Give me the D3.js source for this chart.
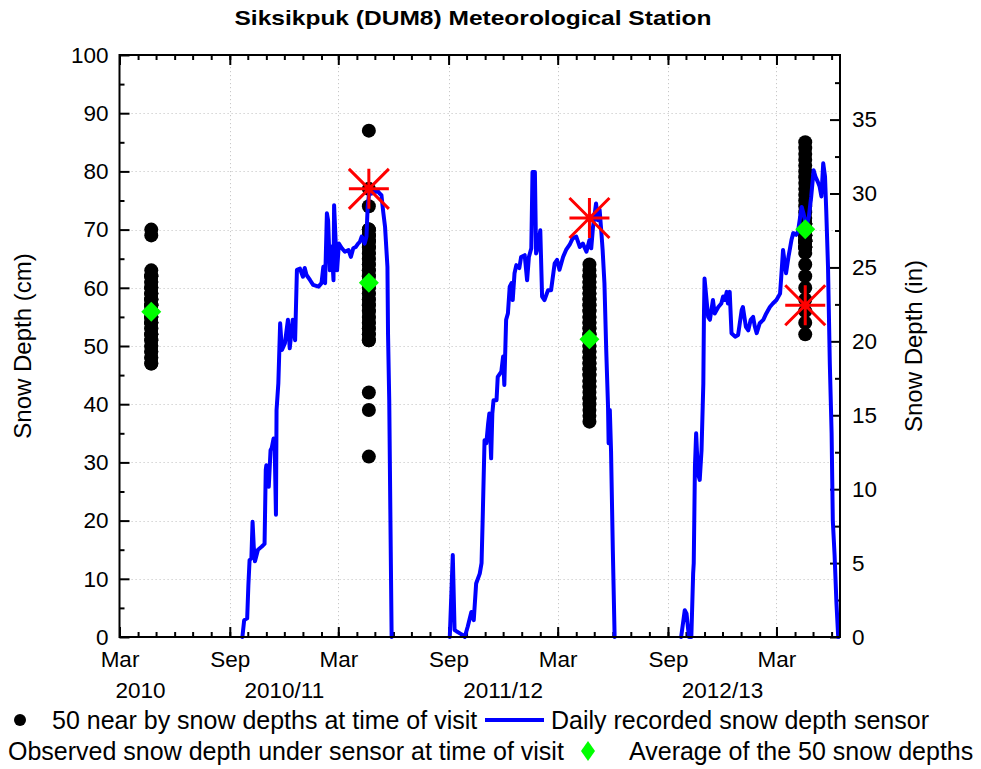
<!DOCTYPE html>
<html>
<head>
<meta charset="utf-8">
<script src="https://cdn.jsdelivr.net/npm/d3@7"></script>
<style>
  html, body { margin: 0; padding: 0; background: #fff; }
  svg { display: block; font-family: "Liberation Sans", Arial, sans-serif; }
</style>
</head>
<body>
<svg id="chart" width="981" height="769"></svg>
<script>
// ---- Field visits -------------------------------------------------------
const visitDates = ["2010-04-23", "2011-04-21", "2012-04-23", "2013-04-18"];

// 50 nearby snow depths (cm) measured at each visit
const nearbyDepths2010 = [70,69,63,62,62,62,61,61,60,60,60,59,59,59,58,58,58,58,57,57,57,57,56,56,56,56,56,55,55,55,55,54,54,54,54,53,53,52,52,52,51,51,50,50,49,49,48,48,47,47];
const nearbyDepths2011 = [87,77,74,70,70,70,69,69,69,68,68,68,67,67,67,66,66,65,65,64,64,63,63,62,62,61,61,60,60,59,59,58,58,57,57,56,56,55,55,54,54,53,53,52,52,51,51,42,39,31];
const nearbyDepths2012 = [64,62,61,60,59,58,57,56,55,54,53,52,51,50,49,48,47,46,45,44,43,42,41,40,39,38,37,41,43,44,45,46,47,48,49,50,51,52,52,53,54,55,56,57,58,59,60,61,62,63];
const nearbyDepths2013 = [85,84,83,82,81,80,79,78,77,76,75,74,73,72,71,70,69,68,67,71,71,71,71,70,70,70,70,70,69,69,69,69,69,68,68,68,68,68,67,67,67,67,66,64,62,60,58,56,54,52];
const nearbyDepths = [nearbyDepths2010, nearbyDepths2011, nearbyDepths2012, nearbyDepths2013];

// Snow depth observed directly under the sensor (cm); no sensor in 2010
const underSensor = [null, 77, 72, 57];

// ---- Daily sensor record, one pair of arrays per winter -------------------
const sensor1Dates = ["2010-09-22","2010-09-25","2010-09-30","2010-10-02","2010-10-04","2010-10-07","2010-10-09","2010-10-11","2010-10-13","2010-10-18","2010-10-24","2010-10-29","2010-10-31","2010-11-01","2010-11-05","2010-11-08","2010-11-10","2010-11-13","2010-11-15","2010-11-17","2010-11-18","2010-11-21","2010-11-24","2010-11-27","2010-12-02","2010-12-07","2010-12-10","2010-12-15","2010-12-19","2010-12-22","2010-12-27","2011-01-01","2011-01-04","2011-01-07","2011-01-13","2011-01-18","2011-01-27","2011-02-01","2011-02-04","2011-02-07","2011-02-10","2011-02-12","2011-02-15","2011-02-18","2011-02-21","2011-02-22","2011-02-25","2011-02-27","2011-03-02","2011-03-07","2011-03-12","2011-03-18","2011-03-22","2011-03-26","2011-03-30","2011-04-03","2011-04-06","2011-04-09","2011-04-11","2011-04-14","2011-04-17","2011-04-19","2011-04-22","2011-04-26","2011-05-01","2011-05-07","2011-05-09","2011-05-12","2011-05-15","2011-05-18","2011-05-22","2011-05-23","2011-05-25","2011-05-27","2011-05-29"];
const sensor1Depth = [0,2.9,3.2,8.9,13.2,13.5,19.8,15.5,13,15,15.5,16,28.7,29.5,25.8,32.1,32.5,34.1,32,21,39,43.6,53.9,49.3,50.5,54.5,49.6,54.5,51,63.1,63.3,61.9,63.4,62.2,61.3,60.5,60.2,60.8,63.6,60.8,72.8,71.6,63,67.1,61.3,74.2,67,63,67.6,66.8,66.2,66.5,65.3,66.8,67,67.6,67.9,68.8,68.5,67.6,68.8,73.9,76.8,76.2,76.5,76.5,76.2,75.9,73,70.5,63.6,52,40.7,20,0];

const sensor2Dates = ["2011-09-03","2011-09-08","2011-09-11","2011-09-14","2011-09-22","2011-09-28","2011-10-03","2011-10-09","2011-10-13","2011-10-17","2011-10-23","2011-10-26","2011-10-28","2011-10-31","2011-11-03","2011-11-06","2011-11-08","2011-11-11","2011-11-13","2011-11-15","2011-11-20","2011-11-22","2011-11-28","2011-12-01","2011-12-03","2011-12-06","2011-12-09","2011-12-12","2011-12-15","2011-12-17","2011-12-20","2011-12-23","2011-12-28","2011-12-31","2012-01-06","2012-01-10","2012-01-13","2012-01-17","2012-01-19","2012-01-23","2012-01-25","2012-01-28","2012-02-01","2012-02-04","2012-02-08","2012-02-14","2012-02-19","2012-02-25","2012-02-29","2012-03-04","2012-03-10","2012-03-15","2012-03-21","2012-03-26","2012-04-01","2012-04-07","2012-04-12","2012-04-18","2012-04-23","2012-04-26","2012-04-29","2012-05-04","2012-05-07","2012-05-10","2012-05-13","2012-05-15","2012-05-18","2012-05-21","2012-05-24","2012-05-25","2012-05-27","2012-05-29","2012-06-01","2012-06-04"];
const sensor2Depth = [0,14.1,1.2,1,0.5,0,1.8,4.3,2.9,9.2,10.9,12.7,20.7,33.8,33.3,36.7,38.4,30.7,38.4,40.7,40.7,44.7,45.6,48.2,43.3,54.5,55.6,60.2,60.8,57.9,62.5,63.9,63.4,65.3,65.6,61.3,65.3,66.8,79.9,79.9,65.9,67,69.9,58.5,57.9,59.6,59.6,64.2,64.8,63.1,65.3,66.5,67.4,68.5,68.8,67,67.6,66.2,68.2,66.8,70.5,74.5,71.6,73.4,69.4,66.5,60.8,49.3,39.6,33.3,39,32.1,15,0];

const sensor3Dates = ["2012-09-23","2012-09-29","2012-10-02","2012-10-06","2012-10-10","2012-10-13","2012-10-14","2012-10-16","2012-10-18","2012-10-21","2012-10-24","2012-10-27","2012-10-30","2012-10-31","2012-11-01","2012-11-07","2012-11-10","2012-11-15","2012-11-18","2012-11-24","2012-11-29","2012-12-02","2012-12-05","2012-12-08","2012-12-10","2012-12-13","2012-12-16","2012-12-22","2012-12-27","2013-01-02","2013-01-04","2013-01-09","2013-01-13","2013-01-17","2013-01-21","2013-01-24","2013-01-27","2013-02-01","2013-02-07","2013-02-12","2013-02-18","2013-02-23","2013-03-01","2013-03-07","2013-03-09","2013-03-12","2013-03-17","2013-03-21","2013-03-26","2013-03-29","2013-04-03","2013-04-06","2013-04-12","2013-04-15","2013-04-20","2013-04-24","2013-04-28","2013-05-02","2013-05-05","2013-05-09","2013-05-12","2013-05-15","2013-05-18","2013-05-21","2013-05-23","2013-05-26","2013-05-29","2013-06-01","2013-06-03","2013-06-06","2013-06-09","2013-06-12"];
const sensor3Depth = [0,4.6,4,0,0,10.9,12.7,29.3,35,28.1,27,32.1,43.6,55,61.6,55,54.5,57.9,55.6,56.7,57.3,58.5,57.9,59.3,57.3,59.3,52.2,51.6,51.9,56.2,56.7,53.3,52.7,54.5,55,53.3,52.2,53.9,54.5,55.6,56.7,57.3,57.9,59,61.9,66.5,62.5,65.3,68.2,69.4,69.1,69.7,73.9,72.8,70.5,72.2,75.7,80.2,79.1,78.2,77.4,75.7,81.4,79.1,73.4,63.6,47,35,20,14,6,0];

const sensorSeasons = [
  [sensor1Dates, sensor1Depth],
  [sensor2Dates, sensor2Depth],
  [sensor3Dates, sensor3Depth]
];

// ---- Axis labels ----------------------------------------------------------
const monthLabels = {2: "Mar", 8: "Sep"};
const seasonLabels = ["2010", "2010/11", "2011/12", "2012/13"];
const seasonLabelDates = ["2010-04-05", "2010-12-01", "2011-12-01", "2012-12-01"];
const cmTicks = [0,10,20,30,40,50,60,70,80,90,100];
const inchTicks = [0,5,10,15,20,25,30,35];

// ---- Layout ---------------------------------------------------------------
const parse = d3.utcParse("%Y-%m-%d");
const L = 119.5, R = 840, T = 55, B = 637;
const FONT = '"Liberation Sans", Arial, sans-serif';
const TICK_FONT = 22.5;

const svg = d3.select("#chart");

const x = d3.scaleUtc()
  .domain([parse("2010-03-01"), parse("2013-06-15")])
  .range([L, R]);
const y = d3.scaleLinear().domain([0, 100]).range([B, T]);
const yIn = d3.scaleLinear().domain([0, 100 / 2.54]).range([B, T]);

const monthTicks = d3.utcMonth.range(parse("2010-03-01"), parse("2013-06-15"));
const majorMonths = monthTicks.filter(d => d.getUTCMonth() === 2 || d.getUTCMonth() === 8);

// dotted grid
const grid = svg.append("g").attr("stroke", "#c8c8c8").attr("stroke-width", 1)
  .attr("stroke-dasharray", "1.2,2.8");
grid.selectAll("line.v").data(majorMonths.filter(d => x(d) > L + 1)).join("line")
  .attr("x1", d => Math.round(x(d)) + 0.5).attr("x2", d => Math.round(x(d)) + 0.5)
  .attr("y1", T).attr("y2", B);
grid.selectAll("line.h").data(cmTicks.filter(v => v > 0 && v < 100)).join("line")
  .attr("x1", L).attr("x2", R)
  .attr("y1", d => Math.round(y(d)) + 0.5).attr("y2", d => Math.round(y(d)) + 0.5);

// ---- Axes -----------------------------------------------------------------
function styleAxis(g) {
  g.select(".domain").remove();
  g.selectAll(".tick line").attr("stroke", "#000").attr("stroke-width", 2);
  g.selectAll(".tick text").attr("fill", "#000").attr("font-family", FONT);
}

// bottom: major (Mar/Sep) labelled, monthly minor
svg.append("g").attr("transform", `translate(0,${B})`)
  .call(d3.axisBottom(x).tickValues(monthTicks).tickSize(-5).tickFormat(""))
  .call(styleAxis);
svg.append("g").attr("transform", `translate(0,${B})`)
  .call(d3.axisBottom(x).tickValues(majorMonths).tickSize(-10).tickPadding(14)
    .tickFormat(d => monthLabels[d.getUTCMonth()]))
  .call(styleAxis)
  .selectAll(".tick text").attr("font-size", TICK_FONT);

// top: mirrored ticks
svg.append("g").attr("transform", `translate(0,${T})`)
  .call(d3.axisTop(x).tickValues(monthTicks).tickSize(-5).tickFormat(""))
  .call(styleAxis);
svg.append("g").attr("transform", `translate(0,${T})`)
  .call(d3.axisTop(x).tickValues(majorMonths).tickSize(-10).tickFormat(""))
  .call(styleAxis);

// season labels
svg.append("g").selectAll("text").data(seasonLabels).join("text")
  .attr("x", (d, i) => x(parse(seasonLabelDates[i])))
  .attr("y", 698)
  .attr("text-anchor", "middle")
  .attr("font-family", FONT).attr("font-size", TICK_FONT)
  .text(d => d);

// left cm axis
svg.append("g").attr("transform", `translate(${L},0)`)
  .call(d3.axisLeft(y).tickValues(d3.range(5, 100, 10)).tickSize(-5).tickFormat(""))
  .call(styleAxis);
svg.append("g").attr("transform", `translate(${L},0)`)
  .call(d3.axisLeft(y).tickValues(cmTicks).tickSize(-10).tickPadding(11))
  .call(styleAxis)
  .selectAll(".tick text").attr("font-size", TICK_FONT);

// right inch axis
svg.append("g").attr("transform", `translate(${R},0)`)
  .call(d3.axisRight(yIn).tickValues(d3.range(2.5, 39, 5)).tickSize(-5).tickFormat(""))
  .call(styleAxis);
svg.append("g").attr("transform", `translate(${R},0)`)
  .call(d3.axisRight(yIn).tickValues(inchTicks).tickSize(-10).tickPadding(12))
  .call(styleAxis)
  .selectAll(".tick text").attr("font-size", TICK_FONT);

// ---- Marks ----------------------------------------------------------------
const visits = visitDates.map((d, i) => ({
  date: parse(d),
  depths: nearbyDepths[i],
  mean: d3.mean(nearbyDepths[i]),
  under: underSensor[i]
}));

// 50 nearby depths
svg.append("g").selectAll("g").data(visits).join("g")
  .selectAll("circle").data(v => v.depths.map(dep => ({date: v.date, dep}))).join("circle")
  .attr("cx", d => x(d.date)).attr("cy", d => y(d.dep)).attr("r", 7).attr("fill", "#000");

// daily sensor line
const line = d3.line().x(d => x(d[0])).y(d => y(d[1]));
svg.append("g").selectAll("path").data(sensorSeasons).join("path")
  .attr("d", s => line(s[0].map((dt, i) => [parse(dt), s[1][i]])))
  .attr("fill", "none").attr("stroke", "#0000ff").attr("stroke-width", 4)
  .attr("stroke-linejoin", "round").attr("stroke-linecap", "round");

// averages
svg.append("g").selectAll("path").data(visits).join("path")
  .attr("d", "M0,-10L10,0L0,10L-10,0Z")
  .attr("transform", d => `translate(${x(d.date)},${y(d.mean)})`)
  .attr("fill", "#00ff00");

// observed under sensor
const star = "M-20,0H20M0,-20V20M-20,-20L20,20M-20,20L20,-20";
svg.append("g").selectAll("path").data(visits.filter(v => v.under != null)).join("path")
  .attr("d", star)
  .attr("transform", d => `translate(${x(d.date)},${y(d.under)})`)
  .attr("stroke", "#ff0000").attr("stroke-width", 3).attr("fill", "none");

// frame
svg.append("rect").attr("x", L).attr("y", T).attr("width", R - L).attr("height", B - T)
  .attr("fill", "none").attr("stroke", "#000").attr("stroke-width", 2);

// ---- Titles ---------------------------------------------------------------
svg.append("text").attr("x", 473).attr("y", 25).attr("text-anchor", "middle")
  .attr("font-family", FONT).attr("font-size", 21).attr("font-weight", "bold")
  .attr("textLength", 477).attr("lengthAdjust", "spacingAndGlyphs")
  .text("Siksikpuk (DUM8) Meteorological Station");

svg.append("text").attr("transform", "translate(31,346) rotate(-90)")
  .attr("text-anchor", "middle").attr("font-family", FONT).attr("font-size", 24)
  .text("Snow Depth (cm)");
svg.append("text").attr("transform", "translate(922,346) rotate(-90)")
  .attr("text-anchor", "middle").attr("font-family", FONT).attr("font-size", 24)
  .text("Snow Depth (in)");

// ---- Legend ---------------------------------------------------------------
const legend = svg.append("g").attr("font-family", FONT).attr("font-size", 25);
legend.append("circle").attr("cx", 20).attr("cy", 720).attr("r", 6).attr("fill", "#000");
legend.append("text").attr("x", 52).attr("y", 729).text("50 near by snow depths at time of visit");
legend.append("line").attr("x1", 485).attr("x2", 544).attr("y1", 720).attr("y2", 720)
  .attr("stroke", "#0000ff").attr("stroke-width", 4);
legend.append("text").attr("x", 551).attr("y", 729).text("Daily recorded snow depth sensor");
legend.append("text").attr("x", 8).attr("y", 760).text("Observed snow depth under sensor at time of visit");
legend.append("path").attr("d", "M0,-10L7,0L0,10L-7,0Z")
  .attr("transform", "translate(588,751)").attr("fill", "#00ff00");
legend.append("text").attr("x", 629).attr("y", 760).text("Average of the 50 snow depths");
</script>
</body>
</html>
